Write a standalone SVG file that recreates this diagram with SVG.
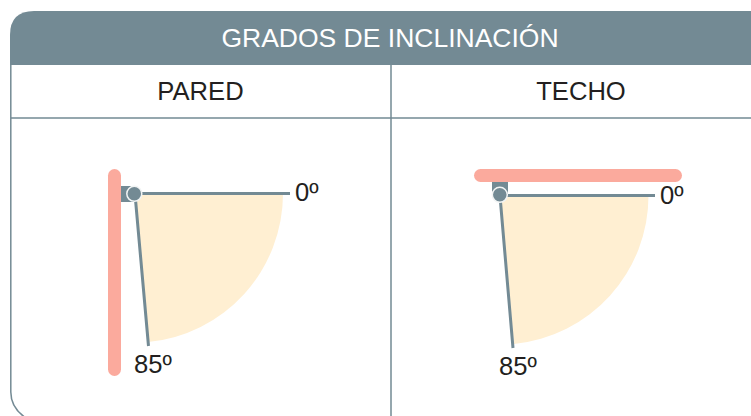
<svg xmlns="http://www.w3.org/2000/svg" width="751" height="416" viewBox="0 0 751 416">
<style>
text{font-family:"Liberation Sans",Arial,sans-serif;font-size:25.600px;fill:#231f20}
.c{text-anchor:middle}
.wall{fill:#fbaa9d}
.wedge{fill:#ffefd2}
.steel{fill:#738a94}
.ln{stroke:#738a94;stroke-width:3;fill:none}
.grid{stroke:#738a94;stroke-width:1.5;fill:none}
.pivot{fill:#738a94;stroke:#f2f4f4;stroke-width:1.500}
</style>
<rect width="751" height="416" fill="#fff"/>
<g id="table">
<path class="grid" d="M751 118H10.800M391 65V416M10.800 65V392Q10.800 408 26 418"/>
<path class="steel" d="M10 65V35Q10 11 34 11H751V65Z"/>
<text class="c" x="390" y="47" style="fill:#fff;font-size:26.500px">GRADOS DE INCLINACIÓN</text>
<text class="c" x="200.500" y="100">PARED</text>
<text class="c" x="581" y="100">TECHO</text>
</g>
<g id="pared">
<path class="wedge" d="M134 193.500H283A149 149 0 0 1 148 342Z"/>
<rect class="wall" x="108" y="169" width="13" height="207" rx="6.500"/>
<rect class="steel" x="121" y="186" width="14" height="16"/>
<g class="connectors">
<path class="ln" d="M134 193.500H290M135 194L148.500 346"/>
</g>
<circle class="pivot" cx="134.300" cy="193.800" r="7.500"/>
<text x="295" y="201">0º</text>
<text x="134" y="373">85º</text>
</g>
<g id="techo">
<path class="wedge" d="M500 195.500H648.500A149 149 0 0 1 514 344Z"/>
<rect class="wall" x="474" y="169" width="208" height="13" rx="6.500"/>
<rect class="steel" x="492" y="182" width="16" height="14"/>
<g class="connectors">
<path class="ln" d="M500 195.500H655M500 196L513 348"/>
</g>
<circle class="pivot" cx="499.800" cy="194.800" r="7.500"/>
<text x="660" y="204">0º</text>
<text x="499" y="375">85º</text>
</g>
</svg>
